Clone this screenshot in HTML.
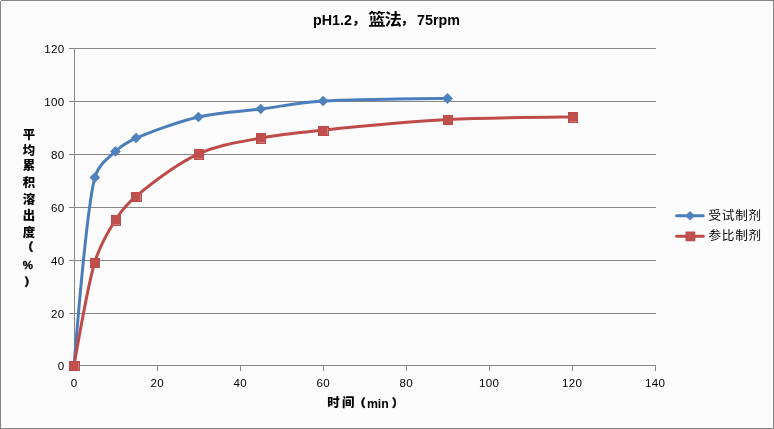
<!DOCTYPE html>
<html lang="zh-CN">
<head>
<meta charset="utf-8">
<title>pH1.2，篮法，75rpm</title>
<style>
html,body{margin:0;padding:0;background:#fcfcfc;}
body{width:774px;height:429px;overflow:hidden;position:relative;}
svg{position:absolute;left:0;top:0;display:block;}
text{font-family:"Liberation Sans","Noto Sans CJK SC",sans-serif;fill:#000;}
.num{font-size:11.6px;letter-spacing:0.3px;}
.ttl{font-size:14.3px;font-weight:bold;}
.ttl .cm{font-size:11.5px;stroke:#000;stroke-width:0.4px;}
.ttl.cj{font-size:16px;font-weight:700;letter-spacing:-1.1px;}
.axt{font-size:12.3px;font-weight:bold;}
.axt .cj,.ycj{font-size:12.4px;font-weight:900;}
.ypc{font-size:11.5px;font-weight:bold;stroke:#000;stroke-width:0.3px;}
.pr{font-size:11px;font-weight:900;stroke:#000;stroke-width:0.5px;}
.leg{font-size:12.6px;letter-spacing:0.75px;font-weight:400;}
</style>
</head>
<body>
<svg width="774" height="429" viewBox="0 0 774 429">
<rect x="0" y="0" width="774" height="429" fill="#fcfcfc"/>
<rect x="0.5" y="0.5" width="773" height="428" fill="none" stroke="#868686" stroke-width="1"/>
<rect x="0" y="0" width="1" height="1" fill="#fcfcfc"/>

<g fill="#868686" shape-rendering="crispEdges">
<rect x="69" y="313" width="587" height="1"/>
<rect x="69" y="260" width="587" height="1"/>
<rect x="69" y="207" width="587" height="1"/>
<rect x="69" y="154" width="587" height="1"/>
<rect x="69" y="101" width="587" height="1"/>
<rect x="69" y="48" width="587" height="1"/>
<rect x="69" y="365" width="6" height="1"/>
<rect x="74" y="48" width="1" height="318"/>
<rect x="74" y="365" width="582" height="1"/>
<rect x="74" y="365" width="1" height="6"/>
<rect x="157" y="365" width="1" height="6"/>
<rect x="240" y="365" width="1" height="6"/>
<rect x="323" y="365" width="1" height="6"/>
<rect x="406" y="365" width="1" height="6"/>
<rect x="489" y="365" width="1" height="6"/>
<rect x="572" y="365" width="1" height="6"/>
<rect x="655" y="365" width="1" height="6"/>
</g>
<g class="num" text-anchor="end">
<text x="64.6" y="369.60">0</text>
<text x="64.6" y="317.60">20</text>
<text x="64.6" y="264.60">40</text>
<text x="64.6" y="211.60">60</text>
<text x="64.6" y="158.60">80</text>
<text x="64.6" y="105.60">100</text>
<text x="64.6" y="52.60">120</text>
</g>
<g class="num" text-anchor="middle">
<text x="74.20" y="387.1">0</text>
<text x="157.20" y="387.1">20</text>
<text x="240.20" y="387.1">40</text>
<text x="323.20" y="387.1">60</text>
<text x="406.20" y="387.1">80</text>
<text x="489.20" y="387.1">100</text>
<text x="572.20" y="387.1">120</text>
<text x="655.20" y="387.1">140</text>
</g>
<text class="ttl" x="313.0" y="24.8">pH1.2</text>
<text class="ttl cj" transform="translate(352.0,24.6) scale(1.09,0.97)"><tspan class="cm" x="0.4" y="-1.0">，</tspan><tspan x="14.9" y="0">篮法</tspan><tspan class="cm" x="45.0" y="-1.0">，</tspan></text>
<text class="ttl" x="417.0" y="24.8">75rpm</text>
<text class="axt" y="407.6"><tspan class="cj" text-anchor="middle" x="333.4" y="407.20">时</tspan><tspan class="cj" text-anchor="middle" x="348.2" y="407.20">间</tspan><tspan class="pr" text-anchor="end" x="365.6" y="406.70">（</tspan><tspan x="366.9" y="407.6">min</tspan><tspan class="pr" x="391.9" y="406.70">）</tspan></text>
<text class="ytt" text-anchor="middle"><tspan class="ycj" x="29.0" y="139.2">平</tspan><tspan class="ycj" x="29.0" y="154.8">均</tspan><tspan class="ycj" x="29.0" y="170.4">累</tspan><tspan class="ycj" x="29.0" y="187.2">积</tspan><tspan class="ycj" x="29.0" y="204.0">溶</tspan><tspan class="ycj" x="29.0" y="220.2">出</tspan><tspan class="ycj" x="29.0" y="236.6">度</tspan><tspan class="pr" text-anchor="end" x="33.2" y="251.4">（</tspan><tspan class="ypc" x="27.8" y="269.0">%</tspan><tspan class="pr" text-anchor="start" x="24.6" y="286.2">）</tspan></text>
<path d="M74.00,365.25 C75.04,355.87 85.65,212.86 94.75,177.69 C98.11,164.68 108.51,157.81 115.50,151.28 C122.49,144.74 127.24,142.01 136.25,138.07 C149.96,132.06 177.75,121.76 198.50,116.93 C219.25,112.11 240.00,111.65 260.75,109.01 C281.50,106.37 297.95,102.67 323.00,101.08 C354.11,99.11 441.27,98.57 447.50,98.44" fill="none" stroke="#4a7ebb" stroke-width="3" stroke-linecap="round" stroke-linejoin="round"/>
<path d="M74.00,365.25 C75.04,360.10 87.38,286.31 94.75,262.23 C100.26,244.22 108.47,230.89 115.50,219.96 C122.33,209.34 126.53,204.24 136.25,196.18 C149.86,184.90 177.70,163.49 198.50,153.92 C219.30,144.35 240.00,142.02 260.75,138.07 C281.50,134.11 298.03,132.68 323.00,130.14 C354.12,126.98 406.00,121.78 447.50,119.57 C489.00,117.37 565.77,117.07 572.00,116.93" fill="none" stroke="#be4b48" stroke-width="3" stroke-linecap="round" stroke-linejoin="round"/>
<path d="M74.00,360.05 L79.20,365.25 L74.00,370.45 L68.80,365.25 Z" fill="#4f81bd"/>
<path d="M94.85,172.30 L100.15,177.60 L94.85,182.90 L89.55,177.60 Z" fill="#4f81bd"/>
<path d="M115.40,146.05 L120.80,151.45 L115.40,156.85 L110.00,151.45 Z" fill="#4f81bd"/>
<path d="M136.10,132.70 L141.40,138.00 L136.10,143.30 L130.80,138.00 Z" fill="#4f81bd"/>
<path d="M198.40,111.70 L203.70,117.00 L198.40,122.30 L193.10,117.00 Z" fill="#4f81bd"/>
<path d="M260.75,103.70 L266.05,109.00 L260.75,114.30 L255.45,109.00 Z" fill="#4f81bd"/>
<path d="M323.10,95.70 L328.40,101.00 L323.10,106.30 L317.80,101.00 Z" fill="#4f81bd"/>
<path d="M447.50,93.00 L453.00,98.50 L447.50,104.00 L442.00,98.50 Z" fill="#4f81bd"/>
<rect x="69" y="361" width="11" height="10" fill="#be4b48" shape-rendering="crispEdges"/><rect x="70" y="362" width="9" height="8" fill="#c0504d" shape-rendering="crispEdges"/><rect x="78" y="363" width="1" height="7" fill="#cd7b79" shape-rendering="crispEdges"/>
<rect x="90" y="258" width="10" height="10" fill="#be4b48" shape-rendering="crispEdges"/><rect x="91" y="259" width="8" height="8" fill="#c0504d" shape-rendering="crispEdges"/>
<rect x="111" y="215" width="10" height="11" fill="#be4b48" shape-rendering="crispEdges"/><rect x="112" y="216" width="8" height="9" fill="#c0504d" shape-rendering="crispEdges"/><rect x="113" y="224" width="7" height="1" fill="#cd7b79" shape-rendering="crispEdges"/>
<rect x="131" y="192" width="11" height="10" fill="#be4b48" shape-rendering="crispEdges"/><rect x="132" y="193" width="9" height="8" fill="#c0504d" shape-rendering="crispEdges"/><rect x="140" y="194" width="1" height="7" fill="#cd7b79" shape-rendering="crispEdges"/>
<rect x="194" y="149" width="10" height="11" fill="#be4b48" shape-rendering="crispEdges"/><rect x="195" y="150" width="8" height="9" fill="#c0504d" shape-rendering="crispEdges"/><rect x="196" y="158" width="7" height="1" fill="#cd7b79" shape-rendering="crispEdges"/>
<rect x="256" y="133" width="10" height="11" fill="#be4b48" shape-rendering="crispEdges"/><rect x="257" y="134" width="8" height="9" fill="#c0504d" shape-rendering="crispEdges"/><rect x="258" y="142" width="7" height="1" fill="#cd7b79" shape-rendering="crispEdges"/>
<rect x="318" y="126" width="11" height="10" fill="#be4b48" shape-rendering="crispEdges"/><rect x="319" y="127" width="9" height="8" fill="#c0504d" shape-rendering="crispEdges"/><rect x="327" y="128" width="1" height="7" fill="#cd7b79" shape-rendering="crispEdges"/>
<rect x="443" y="115" width="10" height="10" fill="#be4b48" shape-rendering="crispEdges"/><rect x="444" y="116" width="8" height="8" fill="#c0504d" shape-rendering="crispEdges"/>
<rect x="568" y="112" width="10" height="11" fill="#be4b48" shape-rendering="crispEdges"/><rect x="569" y="113" width="8" height="9" fill="#c0504d" shape-rendering="crispEdges"/><rect x="570" y="121" width="7" height="1" fill="#cd7b79" shape-rendering="crispEdges"/>
<line x1="676.6" y1="215.75" x2="703.3" y2="215.75" stroke="#4a7ebb" stroke-width="3" stroke-linecap="round"/>
<path d="M690.00,210.95 L694.80,215.75 L690.00,220.55 L685.20,215.75 Z" fill="#4f81bd"/>
<line x1="676.6" y1="236.2" x2="703.3" y2="236.2" stroke="#be4b48" stroke-width="3" stroke-linecap="round"/>
<rect x="685.9" y="231.9" width="9.1" height="9.1" fill="#c0504d" stroke="#be4b48" stroke-width="0.6"/>
<text class="leg" transform="translate(708.5,219.8) scale(1,0.95)">受试制剂</text>
<text class="leg" transform="translate(708.5,240.4) scale(1,0.95)">参比制剂</text>
</svg>
</body>
</html>
